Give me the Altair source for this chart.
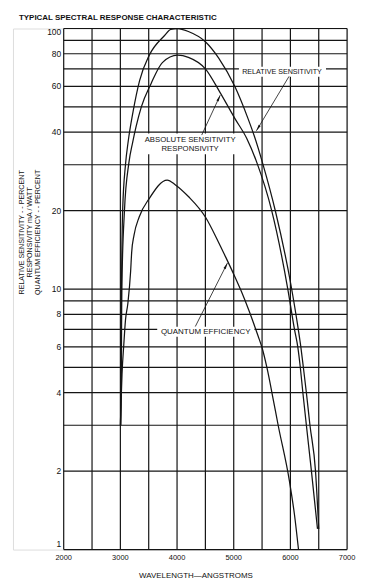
import math
import altair as alt
import pandas as pd

# ---------------- text ----------------
TITLE = "TYPICAL SPECTRAL RESPONSE CHARACTERISTIC"
X_TITLE = "WAVELENGTH\u2014ANGSTROMS"
Y_TITLE_LINES = ["RELATIVE SENSITIVITY - - PERCENT",
                 "RESPONSIVITY mA / WATT",
                 "QUANTUM EFFICIENCY - - PERCENT"]

# ---------------- series (wavelength in angstroms, value) ----------------
rel_wl = [3003, 3008, 3020, 3040, 3090, 3139, 3224, 3338, 3510, 3780, 3890, 4010, 4200, 4500,
          4735, 5018, 5254, 5366, 5512, 5738, 6005, 6139, 6184, 6229, 6282, 6345, 6443, 6500]
rel_val = [3, 4, 10, 20, 30, 37, 48, 63, 79, 94, 99.3, 100, 97.4, 89,
           77, 60, 45, 38.5, 30.3, 19.8, 10.5, 7, 6, 5, 4, 3, 2, 1.2]

abs_wl = [3008, 3015, 3025, 3072, 3150, 3216, 3277, 3370, 3541, 3741, 4010, 4200, 4500,
          4755, 5024, 5226, 5410, 5670, 5954, 6072, 6130, 6175, 6220, 6282, 6371, 6478]
abs_val = [3, 4, 10, 20, 30.5, 36.5, 42, 50, 61.4, 74, 79, 77.5, 70,
           57, 45, 38, 30.5, 20, 10, 7, 6, 5, 4, 3, 2, 1.2]

qe_wl = [3000, 3018, 3029, 3060, 3090, 3132, 3181, 3199, 3241, 3332, 3512, 3826, 3972, 4205,
         4500, 4727, 4863, 5000, 5134, 5275, 5430, 5500, 5585, 5699, 5784, 5983, 6072, 6143]
qe_val = [3, 4, 4.7, 6.1, 7.6, 8.8, 11.7, 13.8, 16.1, 18.9, 22.3, 26.2, 25.1, 22.6,
          18.9, 15.2, 13.2, 11.4, 9.8, 8.2, 6.6, 5.95, 5, 3.75, 3, 1.83, 1.36, 1]

# ---------------- grid and ticks ----------------
grid_x = [2000, 2500, 3000, 3500, 4000, 4500, 5000, 5500, 6000, 6500, 7000]
grid_y = [1, 2, 3, 4, 5, 6, 7, 8, 9, 10, 20, 30, 40, 50, 60, 70, 80, 90, 100]
x_ticks = [2000, 3000, 4000, 5000, 6000, 7000]
y_ticks_mid = [2, 4, 6, 8, 10, 20, 40, 60, 80]
y_tick_top = [100]
y_tick_bottom = [1]

x_domain = [1105, 7000]   # outer frame runs left of the 2000 line
y_domain = [1, 100]

# ---------------- annotations (data coordinates) ----------------
ann_text = ["RELATIVE SENSITIVITY", "ABSOLUTE SENSITIVITY", "RESPONSIVITY", "QUANTUM EFFICIENCY"]
ann_x = [5852, 4231, 4231, 4505]
ann_y = [68, 37.2, 34.4, 6.86]
ann_size = [7.2, 7.8, 7.8, 8.0]

box_x = [5092, 3349, 3650]
box_x2 = [6628, 5146, 5366]
box_y = [71.3, 39.5, 7.16]
box_y2 = [65.3, 32.9, 6.56]

arrow_x = [5976, 4435, 4322]
arrow_y = [65.5, 39, 7.18]
arrow_tip_x = [5400, 4762, 4890]
arrow_tip_y = [40.5, 55.5, 12.6]

ytitle_x = [1263, 1403, 1544]
ytitle_y = [16.5, 16.5, 16.5]
xtitle_x = [4333]

W, H = 336, 524
INK = "#141414"
TXT = "#111"
FONT = "Liberation Sans"

xs = alt.Scale(domain=x_domain, nice=False, zero=False)
ys = alt.Scale(type="log", domain=y_domain, nice=False)

# ---------------- frames ----------------
curves = pd.concat([
    pd.DataFrame({"wl": rel_wl, "v": rel_val, "s": "rel"}),
    pd.DataFrame({"wl": abs_wl, "v": abs_val, "s": "abs"}),
    pd.DataFrame({"wl": qe_wl, "v": qe_val, "s": "qe"}),
])

vg = pd.DataFrame({"x": grid_x, "y": 1, "y2": 100})
hg = pd.DataFrame({"y": grid_y, "x": 2000, "x2": 7000})
boxes = pd.DataFrame({"x": box_x, "x2": box_x2, "y": box_y, "y2": box_y2})
ann = pd.DataFrame({"t": ann_text, "x": ann_x, "y": ann_y, "fs": ann_size})


def px_x(w):
    return (w - x_domain[0]) / (x_domain[1] - x_domain[0]) * W


def px_y(v):
    return H * (1 - math.log10(v) / 2)


angles = []
for a, b, c, d in zip(arrow_x, arrow_y, arrow_tip_x, arrow_tip_y):
    dx = px_x(c) - px_x(a)
    dy = px_y(d) - px_y(b)
    angles.append(math.degrees(math.atan2(dx, -dy)) % 360)
arrows = pd.DataFrame({"x": arrow_x, "y": arrow_y, "x2": arrow_tip_x, "y2": arrow_tip_y, "ang": angles})

ylab_mid = pd.DataFrame({"v": y_ticks_mid, "x": 2000, "t": [str(v) for v in y_ticks_mid]})
ylab_top = pd.DataFrame({"v": y_tick_top, "x": 2000, "t": [str(v) for v in y_tick_top]})
ylab_bot = pd.DataFrame({"v": y_tick_bottom, "x": 2000, "t": [str(v) for v in y_tick_bottom]})
ytitle = pd.DataFrame({"x": ytitle_x, "y": ytitle_y, "t": Y_TITLE_LINES})
xlab = pd.DataFrame({"x": x_ticks, "y": 1, "t": [str(v) for v in x_ticks]})
xtitle = pd.DataFrame({"x": xtitle_x, "y": [1], "t": [X_TITLE]})

X = lambda f: alt.X(f, scale=xs, axis=None)
Y = lambda f: alt.Y(f, scale=ys, axis=None)

vgrid = alt.Chart(vg).mark_rule(color=INK, strokeWidth=1.2).encode(
    x=X("x:Q"), y=Y("y:Q"), y2="y2:Q",
)

hgrid = alt.Chart(hg).mark_rule(color=INK, strokeWidth=1.2).encode(
    x=X("x:Q"), x2="x2:Q", y=Y("y:Q"),
)

bg = alt.Chart(boxes).mark_rect(color="white").encode(
    x=X("x:Q"), x2="x2:Q", y=Y("y:Q"), y2="y2:Q",
)

lines = alt.Chart(curves).mark_line(color=INK, strokeWidth=1.25, interpolate="monotone").encode(
    x=X("wl:Q"), y=Y("v:Q"), detail="s:N",
)

shafts = alt.Chart(arrows).mark_rule(color=INK, strokeWidth=0.8).encode(
    x=X("x:Q"), x2="x2:Q", y=Y("y:Q"), y2="y2:Q",
)

heads = alt.Chart(arrows).mark_point(
    shape="M0,0L0.42,2.2L-0.42,2.2Z", filled=True, fill=INK, strokeWidth=0, size=34, opacity=1
).encode(
    x=X("x2:Q"), y=Y("y2:Q"), angle=alt.Angle("ang:Q", scale=None),
)

labels = alt.Chart(ann).mark_text(color=TXT, font=FONT, align="center", baseline="middle").encode(
    x=X("x:Q"), y=Y("y:Q"), text="t:N", size=alt.Size("fs:Q", scale=None),
)


def ylabels(df, dy):
    return alt.Chart(df).mark_text(color=TXT, font=FONT, fontSize=8.5, align="right",
                                   baseline="middle", dx=-2.5, dy=dy).encode(
        x=X("x:Q"), y=Y("v:Q"), text="t:N",
    )


yt = alt.Chart(ytitle).mark_text(color=TXT, font=FONT, fontSize=7.2, angle=270,
                                 align="center", baseline="middle").encode(
    x=X("x:Q"), y=Y("y:Q"), text="t:N",
)

xl = alt.Chart(xlab).mark_text(color=TXT, font=FONT, fontSize=7.5, align="center",
                               baseline="top", dy=5).encode(
    x=X("x:Q"), y=Y("y:Q"), text="t:N",
)

xt = alt.Chart(xtitle).mark_text(color=TXT, font=FONT, fontSize=8, align="center",
                                 baseline="top", dy=23).encode(
    x=X("x:Q"), y=Y("y:Q"), text="t:N",
)

chart = alt.layer(
    vgrid, hgrid, bg, lines, shafts, heads, labels,
    ylabels(ylab_mid, 0), ylabels(ylab_top, 4), ylabels(ylab_bot, -6), yt, xl, xt,
).properties(
    width=W, height=H,
    title=alt.TitleParams(TITLE, anchor="start", fontSize=8, fontWeight="bold", dx=6,
                          offset=4, color=TXT, font=FONT, frame="group"),
    padding={"left": 5, "right": 5, "top": 4, "bottom": 0},
).configure_view(stroke=INK, strokeWidth=1.5).configure(background="white", font=FONT)

chart.save("out.html", embed_options={"renderer": "svg", "actions": False})
